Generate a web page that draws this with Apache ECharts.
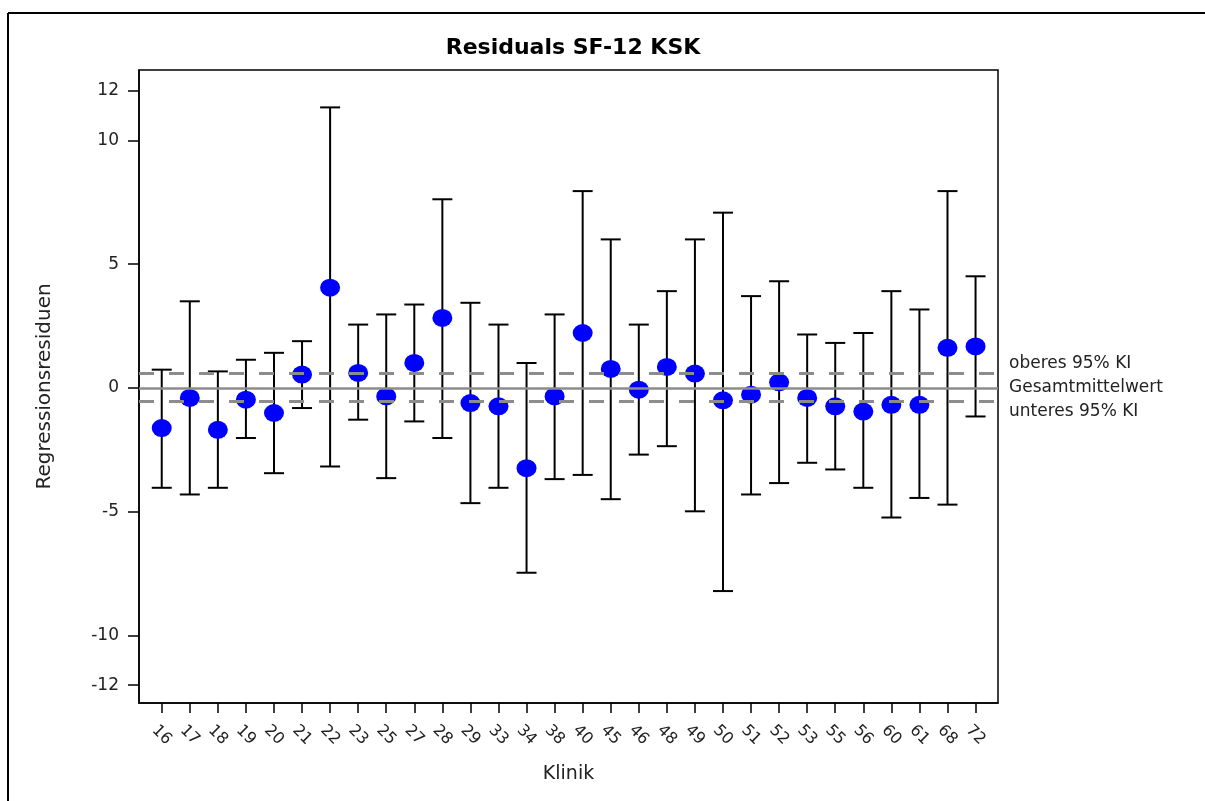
<!DOCTYPE html>
<html>
<head>
<meta charset="utf-8">
<script src="https://cdn.jsdelivr.net/npm/echarts@6/dist/echarts.min.js"></script>
<style>
html,body{margin:0;padding:0;background:#fff;}
#chart{width:1205px;height:801px;}
</style>
</head>
<body>
<div id="chart"></div>
<script>
// ---- data ----
const categories = ['16','17','18','19','20','21','22','23','25','27','28','29','33','34','38','40','45','46','48','49','50','51','52','53','55','56','60','61','68','72'];
const residuals  = [-1.62,-0.40,-1.69,-0.47,-1.01,0.54,4.05,0.61,-0.34,1.01,2.83,-0.61,-0.74,-3.24,-0.34,2.22,0.77,-0.07,0.85,0.58,-0.50,-0.27,0.23,-0.40,-0.74,-0.95,-0.68,-0.68,1.62,1.68];
const upperCI    = [0.74,3.50,0.67,1.14,1.42,1.89,11.33,2.56,2.97,3.37,7.62,3.44,2.56,1.01,2.97,7.95,6.00,2.56,3.91,6.00,7.08,3.71,4.31,2.16,1.82,2.22,3.91,3.17,7.95,4.51];
const lowerCI    = [-4.03,-4.30,-4.03,-2.02,-3.44,-0.81,-3.17,-1.28,-3.64,-1.35,-2.02,-4.65,-4.03,-7.46,-3.68,-3.51,-4.49,-2.69,-2.35,-4.98,-8.20,-4.30,-3.84,-3.02,-3.29,-4.03,-5.23,-4.44,-4.71,-1.15];
const yTickValues = [-12,-10,-5,0,5,10,12];
const refUpper = 0.6;
const refMean = 0;
const refLower = -0.55;
const refLabels = ['oberes 95% KI','Gesamtmittelwert','unteres 95% KI'];
const titleText = 'Residuals SF-12 KSK';
const xName = 'Klinik';
const yName = 'Regressionsresiduen';

// ---- build ----
const idx = categories.map((c,i)=>i);
const pointData = residuals.map((v,i)=>[i,v]);
const barData = idx.map(i=>[i,lowerCI[i],upperCI[i]]);

const FONT = 'DejaVu Sans';
const chart = echarts.init(document.getElementById('chart'), null, {renderer:'canvas'});

const option = {
  backgroundColor:'#fff',
  animation:false,
  title:{
    text:titleText, left:568, top:32, textAlign:'center',
    textStyle:{fontFamily:FONT,fontWeight:'bold',fontSize:22,color:'#000'}
  },
  grid:{left:139,top:70,width:859,height:633,show:true,borderColor:'#000',borderWidth:1.5,containLabel:false},
  xAxis:{
    type:'value', min:-0.81, max:29.8,
    name:xName, nameLocation:'middle', nameGap:62,
    nameTextStyle:{fontFamily:FONT,fontSize:19,color:'#222'},
    axisLine:{show:true,onZero:false,lineStyle:{color:'#000',width:1.5}},
    axisTick:{show:true,length:10,customValues:idx,lineStyle:{color:'#000',width:1.5}},
    axisLabel:{customValues:idx,formatter:v=>categories[Math.round(v)],rotate:-45,align:'center',verticalAlign:'middle',margin:32,
      fontFamily:FONT,fontSize:16,color:'#222'},
    splitLine:{show:false}
  },
  yAxis:{
    type:'value', min:-12.72, max:12.84,
    name:yName, nameLocation:'middle', nameGap:84, nameRotate:90,
    nameTextStyle:{fontFamily:FONT,fontSize:20,color:'#222'},
    axisLine:{show:true,onZero:false,lineStyle:{color:'#000',width:1.5}},
    axisTick:{show:true,length:11,customValues:yTickValues,lineStyle:{color:'#000',width:1.5}},
    axisLabel:{customValues:yTickValues,margin:20,fontFamily:FONT,fontSize:17,color:'#222'},
    splitLine:{show:false}
  },
  series:[
    {
      type:'custom', data:barData, z:2,
      renderItem:function(params, api){
        const x = api.value(0), lo = api.value(1), hi = api.value(2);
        const pHi = api.coord([x,hi]), pLo = api.coord([x,lo]);
        const half = 10;
        const st = {stroke:'#000',lineWidth:2,fill:null};
        return {type:'group',children:[
          {type:'line',shape:{x1:pHi[0],y1:pHi[1],x2:pLo[0],y2:pLo[1]},style:st},
          {type:'line',shape:{x1:pHi[0]-half,y1:pHi[1],x2:pHi[0]+half,y2:pHi[1]},style:st},
          {type:'line',shape:{x1:pLo[0]-half,y1:pLo[1],x2:pLo[0]+half,y2:pLo[1]},style:st}
        ]};
      },
      encode:{x:0,y:[1,2]}
    },
    {
      type:'scatter', data:pointData, z:3,
      symbol:'circle', symbolSize:[20,18],
      itemStyle:{color:'#0000ff',opacity:1}
    },
    {
      type:'scatter', data:[], z:5,
      markLine:{
        silent:true, symbol:['none','none'], label:{show:false},
        data:[
          {yAxis:refUpper, lineStyle:{type:[15,15],color:'#8c8c8c',width:3}},
          {yAxis:refMean, lineStyle:{type:'solid',color:'#8c8c8c',width:2.5}},
          {yAxis:refLower, lineStyle:{type:[15,15],color:'#8c8c8c',width:3}}
        ]
      }
    }
  ],
  graphic:[
    {type:'line',shape:{x1:8,y1:13,x2:1205,y2:13},style:{stroke:'#000',lineWidth:2}},
    {type:'line',shape:{x1:8,y1:13,x2:8,y2:801},style:{stroke:'#000',lineWidth:2}},
    {type:'text',x:1009,y:364,style:{text:refLabels[0],fontFamily:FONT,fontSize:17,fill:'#222',verticalAlign:'middle'}},
    {type:'text',x:1009,y:388,style:{text:refLabels[1],fontFamily:FONT,fontSize:17,fill:'#222',verticalAlign:'middle'}},
    {type:'text',x:1009,y:412,style:{text:refLabels[2],fontFamily:FONT,fontSize:17,fill:'#222',verticalAlign:'middle'}}
  ]
};
chart.setOption(option);
</script>
</body>
</html>
